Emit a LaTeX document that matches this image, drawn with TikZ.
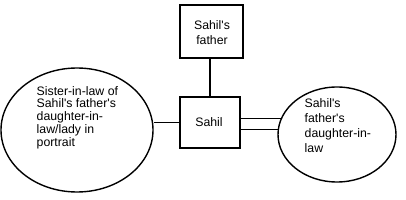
\documentclass[tikz,border=0pt]{standalone}
\usepackage{fontspec}
\setmainfont{Liberation Sans}
\usetikzlibrary{shapes.geometric}
\newcommand{\ap}{\textquotesingle}
\begin{document}
\begin{tikzpicture}[x=1pt,y=-1pt,line width=1.4pt,
  box/.style={draw,rectangle,inner sep=0pt},
  oval/.style={draw,ellipse,inner sep=0pt},
  txt/.style={align=left,inner sep=0pt,font=\fontsize{12.3}{#1}\selectfont},
  ctxt/.style={align=center,inner sep=0pt,font=\fontsize{12.3}{15}\selectfont}]
\useasboundingbox (0,0) rectangle (406,200);
\node[box,minimum width=63pt,minimum height=53pt] (father) at (211.5,31.5) {};
\node[ctxt] (fathert) at (212,32.5) {Sahil\ap s\\father};
\node[box,minimum width=60pt,minimum height=51pt] (sahil) at (210,122.5) {};
\node[ctxt] (sahilt) at (209,122.5) {Sahil};
\node[oval,minimum width=152pt,minimum height=124pt] (left) at (77,130) {};
\node[txt=12.7,anchor=west] (leftt) at (36,117.5) {Sister-in-law of\\Sahil\ap s father\ap s\\daughter-in-\\law/lady in\\portrait};
\node[oval,minimum width=118pt,minimum height=95pt] (right) at (337,134.5) {};
\node[txt=15,anchor=west] (rightt) at (304,125.5) {Sahil\ap s\\father\ap s\\daughter-in-\\law};
\draw (sahil.north) -- (sahil.north |- father.south);
\draw (sahil.west) -- (sahil.west -| left.east);
\draw (sahil.east |- right.164.5) -- (right.164.5);
\draw (sahil.east |- right.175) -- (right.175);
\end{tikzpicture}
\end{document}
